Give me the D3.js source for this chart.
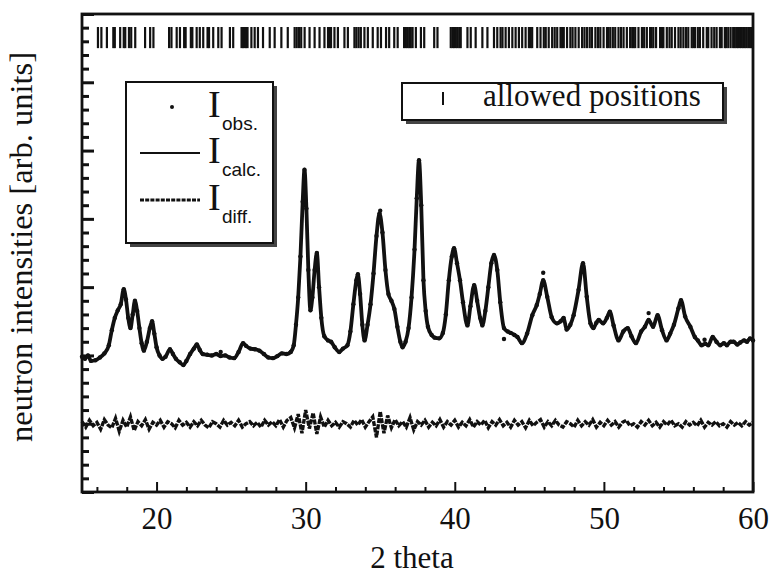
<!DOCTYPE html>
<html lang="en">
<head>
<meta charset="UTF-8">
<title>Neutron powder pattern</title>
<script src="https://cdnjs.cloudflare.com/ajax/libs/d3/7.8.5/d3.min.js"></script>
<style>
    body { margin: 0; padding: 0; background: #fff; }
    svg { display: block; }
</style>
</head>
<body>
<div id="chart"></div>
<script>
// 2 theta / intensity (calc and obs overlap)
const calcX = [15.0,15.2,15.4,15.6,15.9,16.2,16.5,16.8,17.0,17.2,17.4,17.6,17.8,17.95,18.1,18.25,18.4,18.55,18.7,18.85,
    19.0,19.15,19.35,19.55,19.7,19.85,20.0,20.2,20.4,20.6,20.9,21.1,21.3,21.55,21.8,22.0,22.25,22.5,22.7,22.9,
    23.1,23.4,23.7,24.0,24.3,24.6,24.9,25.2,25.5,25.8,26.0,26.3,26.6,26.9,27.2,27.5,27.8,28.1,28.4,28.7,
    29.0,29.2,29.35,29.5,29.65,29.8,29.92,30.05,30.18,30.32,30.45,30.6,30.75,30.9,31.05,31.25,31.5,31.7,31.95,32.25,
    32.5,32.8,33.0,33.2,33.4,33.5,33.65,33.8,33.95,34.15,34.35,34.55,34.75,34.95,35.15,35.35,35.55,35.75,35.95,36.15,
    36.35,36.5,36.7,36.9,37.1,37.3,37.45,37.6,37.75,37.9,38.05,38.2,38.45,38.65,38.95,39.2,39.4,39.6,39.8,39.95,
    40.15,40.35,40.55,40.85,41.05,41.3,41.5,41.7,41.85,42.05,42.25,42.45,42.63,42.85,43.05,43.3,43.55,43.75,44.0,44.2,
    44.5,44.85,45.2,45.5,45.7,45.93,46.2,46.5,46.85,47.1,47.3,47.5,47.75,47.97,48.3,48.6,48.85,49.1,49.3,49.5,
    49.65,49.95,50.2,50.4,50.65,50.98,51.3,51.6,51.85,52.15,52.5,52.75,53.0,53.3,53.6,53.9,54.2,54.45,54.7,55.0,
    55.17,55.45,55.8,56.1,56.3,56.55,56.8,57.0,57.3,57.55,57.8,58.05,58.25,58.5,58.7,58.95,59.15,59.4,59.6,59.8,60.0];
const calcY = [1.98,1.95,2.0,1.92,1.93,1.97,2.03,2.15,2.37,2.55,2.66,2.75,2.97,2.82,2.55,2.40,2.60,2.80,2.65,2.40,
    2.18,2.07,2.20,2.40,2.50,2.32,2.12,2.00,1.95,1.98,2.09,2.02,1.95,1.90,1.86,1.92,2.02,2.10,2.16,2.08,
    2.02,2.01,2.00,2.02,1.99,2.00,1.97,1.96,2.05,2.18,2.14,2.10,2.09,2.07,2.02,1.97,1.96,1.99,2.03,2.02,
    2.05,2.15,2.45,2.85,3.45,4.25,4.72,4.15,3.25,2.66,2.85,3.25,3.50,3.00,2.55,2.28,2.22,2.20,2.12,2.05,
    2.10,2.15,2.35,2.75,3.10,3.19,2.90,2.45,2.22,2.45,2.75,3.20,3.75,4.08,3.80,3.25,2.90,2.80,2.68,2.42,
    2.20,2.12,2.20,2.40,2.85,3.55,4.30,4.86,4.20,3.10,2.65,2.42,2.30,2.26,2.25,2.33,2.60,3.10,3.45,3.57,
    3.35,3.10,2.78,2.44,2.72,3.03,2.80,2.55,2.44,2.65,3.00,3.35,3.47,3.25,2.78,2.40,2.35,2.33,2.30,2.27,
    2.18,2.32,2.59,2.74,2.90,3.10,2.86,2.56,2.47,2.50,2.55,2.38,2.45,2.59,2.96,3.35,2.86,2.47,2.40,2.48,
    2.52,2.47,2.55,2.64,2.44,2.22,2.35,2.40,2.28,2.18,2.35,2.42,2.52,2.42,2.59,2.37,2.22,2.32,2.45,2.69,
    2.81,2.57,2.42,2.27,2.22,2.15,2.17,2.15,2.27,2.20,2.15,2.18,2.15,2.20,2.20,2.16,2.19,2.22,2.20,2.25,2.22];

// observed points that sit off the calculated line
const obsExtraX = [24.3, 35.0, 43.3, 45.93, 53.0, 56.75];
const obsExtraY = [2.05, 4.12, 2.24, 3.21, 2.62, 2.23];

// difference curve, 15..60 in 0.25 steps
const diffStart = 15, diffStep = 0.25;
const diffY = [1.03,0.95,1.05,0.97,1.02,0.92,1.06,0.98,0.94,1.08,0.89,1.05,0.95,1.10,0.90,1.03,0.97,1.06,0.92,1.02,
    0.98,1.05,0.95,1.03,1.00,0.94,1.05,0.98,1.02,0.95,1.03,0.97,1.05,0.98,0.94,1.03,1.00,0.95,1.05,0.98,
    1.02,0.97,1.05,0.95,1.00,1.03,0.97,1.02,0.95,1.05,0.98,1.03,0.97,1.06,0.95,1.05,1.09,0.94,
    1.14,0.86,1.20,0.93,1.16,0.85,1.10,0.95,
    1.05,0.97,1.02,0.95,1.03,1.00,0.95,1.05,0.98,1.06,0.95,1.03,
    1.10,0.80,1.18,0.86,1.12,
    0.94,1.06,0.97,1.03,0.95,1.09,0.91,1.03,0.98,1.05,0.95,1.02,0.97,1.06,0.95,1.03,0.98,
    1.05,0.95,1.02,0.97,1.06,0.95,1.03,0.98,1.05,0.94,
    1.03,0.98,1.06,0.97,1.02,0.95,1.05,0.98,1.03,0.94,
    1.05,0.97,1.02,1.06,0.95,1.03,0.97,1.05,0.98,0.95,
    1.03,1.00,0.95,1.05,0.97,1.03,0.98,1.06,0.95,1.02,
    0.97,1.05,0.98,1.03,0.95,1.02,1.05,0.97,1.00,0.95,
    1.03,0.98,1.05,0.97,1.02,0.95,1.03,0.98,1.05,0.97,
    1.00,0.95,1.03,0.98,1.02,0.97,1.05,0.95,1.02,0.98,
    1.03,0.97,1.00,0.95,1.03,0.98,1.02,0.97,1.03,0.98,
    1.02];

// allowed reflection positions (2 theta)
const reflections = [16.07,16.3,16.67,17.1,17.2,17.56,17.8,17.9,18.15,18.3,18.57,19.23,19.57,19.79,
    20.84,21.0,21.35,21.57,21.85,21.95,22.3,22.4,22.69,22.9,23.13,23.42,23.52,23.8,24.14,24.36,24.92,25.14,
    25.7,25.8,25.9,26.0,26.1,26.36,26.58,26.8,27.14,27.59,27.92,28.37,28.8,29.26,29.4,29.55,29.7,29.93,
    30.26,30.6,30.93,31.26,31.5,31.6,31.7,31.93,32.16,32.6,32.83,33.27,33.4,33.55,33.7,33.94,34.17,34.5,
    34.83,35.05,35.39,35.6,35.94,36.17,36.6,36.72,36.84,36.95,37.05,37.17,37.39,37.73,37.95,38.62,38.84,
    39.73,39.85,39.95,40.07,40.18,40.3,40.4,40.85,41.07,41.4,41.85,42.19,
    42.63,42.85,43.07,43.2,43.41,43.63,43.86,44.08,44.3,44.52,44.75,44.97,45.08,45.19,45.53,45.75,45.97,
    46.1,46.3,46.53,46.7,46.87,47.09,47.2,47.31,47.53,47.75,47.9,48.09,48.31,48.54,48.7,48.87,49.05,49.2,
    49.43,49.6,49.76,49.98,50.21,50.3,50.43,50.6,50.76,50.98,51.15,51.32,51.54,51.76,51.9,51.99,52.1,52.32,
    52.55,52.7,52.88,53.1,53.2,53.32,53.5,53.77,53.9,53.99,54.22,54.4,54.55,54.77,55.0,55.15,55.33,55.5,
    55.66,55.89,56.0,56.11,56.3,56.44,56.66,56.9,57.0,57.22,57.4,57.56,57.78,57.9,58.11,58.2,58.34,58.5,
    58.67,58.78,58.9,59.0,59.12,59.23,59.34,59.45,59.56,59.68,59.79,59.9,59.97];

const xMajor = [20, 30, 40, 50, 60];
const xMinor = [16, 18, 22, 24, 26, 28, 32, 34, 36, 38, 42, 44, 46, 48, 52, 54, 56, 58];
const yMajor = [0, 1, 2, 3, 4, 5, 6, 7];

const SERIF = '"Liberation Serif", "Times New Roman", serif';
const SANS = '"Liberation Sans", Arial, sans-serif';
const INK = '#111';

const width = 769, height = 575;
const margin = { top: 14, right: 16, bottom: 83, left: 82 };

const svg = d3.select('#chart').append('svg')
    .attr('width', width)
    .attr('height', height);

const x = d3.scaleLinear().domain([15, 60]).range([margin.left, width - margin.right]);
const y = d3.scaleLinear().domain([0, 7]).range([height - margin.bottom, margin.top]);

// bottom axis, ticks pointing inward
const gx = svg.append('g').attr('transform', `translate(0,${height - margin.bottom})`);
gx.call(d3.axisBottom(x).tickValues(xMajor).tickSize(-10).tickPadding(15).tickFormat(d3.format('d')));
gx.append('g').call(d3.axisBottom(x).tickValues(xMinor).tickSize(-5).tickFormat(''));
gx.selectAll('.domain').remove();
gx.selectAll('line').attr('stroke', INK).attr('stroke-width', 2);
gx.selectAll('text').style('font-family', SERIF).style('font-size', '31px').attr('fill', INK);

// left axis, only ticks
const yMinor = d3.range(0, 35).map(i => i / 5).filter(v => Math.abs(v - Math.round(v)) > 1e-6);
const gy = svg.append('g').attr('transform', `translate(${margin.left},0)`);
gy.call(d3.axisLeft(y).tickValues(yMajor).tickSize(-12).tickFormat(''));
gy.append('g').call(d3.axisLeft(y).tickValues(yMinor).tickSize(-7).tickFormat(''));
gy.selectAll('.domain').remove();
gy.selectAll('line').attr('stroke', INK).attr('stroke-width', 3);

// frame
svg.append('rect')
    .attr('x', margin.left).attr('y', margin.top)
    .attr('width', width - margin.left - margin.right)
    .attr('height', height - margin.top - margin.bottom)
    .attr('fill', 'none').attr('stroke', INK).attr('stroke-width', 2.8);

// allowed positions
svg.append('g').selectAll('line').data(reflections).join('line')
    .attr('x1', d => x(d)).attr('x2', d => x(d))
    .attr('y1', y(6.5)).attr('y2', y(6.81))
    .attr('stroke', INK).attr('stroke-width', 2.2);

// calc line + obs dots
const calc = calcX.map((v, i) => [v, calcY[i]]);
const line = d3.line().x(d => x(d[0])).y(d => y(d[1])).curve(d3.curveMonotoneX);
svg.append('path').datum(calc)
    .attr('d', line).attr('fill', 'none').attr('stroke', INK)
    .attr('stroke-width', 3.8).attr('stroke-linejoin', 'round');
const obs = calc.concat(obsExtraX.map((v, i) => [v, obsExtraY[i]]));
svg.append('g').selectAll('circle').data(obs).join('circle')
    .attr('cx', d => x(d[0])).attr('cy', d => y(d[1])).attr('r', 2.2).attr('fill', INK);

// difference curve
const diff = diffY.map((v, i) => [diffStart + i * diffStep, v]);
svg.append('path').datum(diff)
    .attr('d', d3.line().x(d => x(d[0])).y(d => y(d[1])))
    .attr('fill', 'none').attr('stroke', INK).attr('stroke-width', 3.4)
    .attr('stroke-dasharray', '5 1.2');

// axis titles
svg.append('text')
    .attr('x', 412).attr('y', 568).attr('text-anchor', 'middle')
    .style('font-family', SERIF).style('font-size', '31px').attr('fill', INK).text('2 theta');
svg.append('text')
    .attr('transform', 'translate(32,247) rotate(-90)').attr('text-anchor', 'middle')
    .style('font-family', SERIF).style('font-size', '32.5px').attr('fill', INK)
    .text('neutron intensities [arb. units]');

// legend with shadowed boxes
function box(x0, y0, w, h) {
    svg.append('rect').attr('x', x0 + 4).attr('y', y0 + 4).attr('width', w).attr('height', h).attr('fill', '#444');
    svg.append('rect').attr('x', x0).attr('y', y0).attr('width', w).attr('height', h)
        .attr('fill', '#fff').attr('stroke', INK).attr('stroke-width', 2);
}
box(126, 82, 147, 161);
svg.append('circle').attr('cx', 172).attr('cy', 107).attr('r', 2).attr('fill', INK);
svg.append('line').attr('x1', 140).attr('x2', 200).attr('y1', 153).attr('y2', 153)
    .attr('stroke', INK).attr('stroke-width', 2);
svg.append('line').attr('x1', 140).attr('x2', 200).attr('y1', 200).attr('y2', 200)
    .attr('stroke', INK).attr('stroke-width', 3).attr('stroke-dasharray', '4 1.2');
const legendItems = [['obs.', 117], ['calc.', 163], ['diff.', 210]];
legendItems.forEach(([sub, yb]) => {
    svg.append('text').attr('x', 208).attr('y', yb)
        .style('font-family', SERIF).style('font-size', '38px').attr('fill', INK).text('I');
    svg.append('text').attr('x', 222).attr('y', yb + 13)
        .style('font-family', SANS).style('font-size', '19px').attr('fill', INK).text(sub);
});

box(402, 83, 321, 37);
svg.append('line').attr('x1', 443).attr('x2', 443).attr('y1', 92).attr('y2', 105)
    .attr('stroke', INK).attr('stroke-width', 2);
svg.append('text').attr('x', 483).attr('y', 106)
    .style('font-family', SERIF).style('font-size', '31px').attr('fill', INK).text('allowed positions');
</script>
</body>
</html>
